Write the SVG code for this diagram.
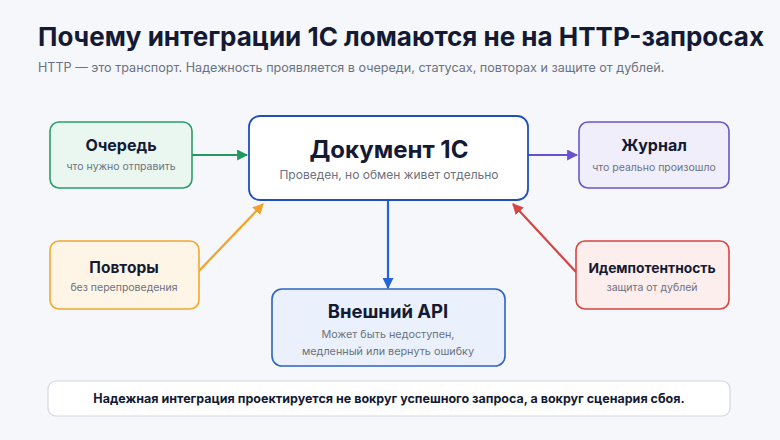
<svg xmlns="http://www.w3.org/2000/svg" width="780" height="440" viewBox="0 0 780 440">
<defs>
<style>
.t{font-family:Inter,"Noto Sans","Liberation Sans",sans-serif}
.h{font-weight:700;fill:#141a33;text-anchor:middle}
.s{fill:#6b7280;text-anchor:middle}
.c{fill:none;stroke-width:2.2}
</style>
<marker id="mg" viewBox="0 0 10 10" refX="9" refY="5" markerWidth="5" markerHeight="5" orient="auto" markerUnits="strokeWidth"><path d="M0,0L10,5L0,10z" fill="#22995e"/></marker>
<marker id="mp" viewBox="0 0 10 10" refX="9" refY="5" markerWidth="5" markerHeight="5" orient="auto" markerUnits="strokeWidth"><path d="M0,0L10,5L0,10z" fill="#6a4fd0"/></marker>
<marker id="mo" viewBox="0 0 10 10" refX="9" refY="5" markerWidth="5" markerHeight="5" orient="auto" markerUnits="strokeWidth"><path d="M0,0L10,5L0,10z" fill="#f0a32a"/></marker>
<marker id="mr" viewBox="0 0 10 10" refX="9" refY="5" markerWidth="5" markerHeight="5" orient="auto" markerUnits="strokeWidth"><path d="M0,0L10,5L0,10z" fill="#d64541"/></marker>
<marker id="mb" viewBox="0 0 10 10" refX="9" refY="5" markerWidth="5" markerHeight="5" orient="auto" markerUnits="strokeWidth"><path d="M0,0L10,5L0,10z" fill="#2563d6"/></marker>
</defs>
<rect width="780" height="440" fill="#f5f7fb"/>
<text class="t" x="38" y="46" font-size="26" font-weight="700" fill="#141a33">Почему интеграции 1С ломаются не на HTTP-запросах</text>
<text class="t" x="38" y="72" font-size="12.6" fill="#6b7280">HTTP — это транспорт. Надежность проявляется в очереди, статусах, повторах и защите от дублей.</text>

<g id="connectors">
<line class="c" x1="192" y1="155" x2="247" y2="155" stroke="#22995e" marker-end="url(#mg)"/>
<line class="c" x1="528" y1="155" x2="577" y2="155" stroke="#6a4fd0" marker-end="url(#mp)"/>
<line class="c" x1="198" y1="272" x2="263" y2="204" stroke="#f0a32a" marker-end="url(#mo)"/>
<line class="c" x1="576" y1="272" x2="513" y2="204" stroke="#d64541" marker-end="url(#mr)"/>
<line class="c" x1="388" y1="200" x2="388" y2="288" stroke="#2563d6" marker-end="url(#mb)"/>
</g>

<g id="queue">
<rect x="50" y="122" width="142" height="66" rx="9" fill="#eaf7f0" stroke="#2a9d6a" stroke-width="1.6"/>
<text class="t h" x="121" y="151" font-size="16">Очередь</text>
<text class="t s" x="121" y="170" font-size="10.5">что нужно отправить</text>
</g>
<g id="doc">
<rect x="249" y="116" width="279" height="84" rx="11" fill="#ffffff" stroke="#1f4fbf" stroke-width="1.8"/>
<text class="t h" x="389" y="158" font-size="24">Документ 1С</text>
<text class="t s" x="389" y="179" font-size="12">Проведен, но обмен живет отдельно</text>
</g>
<g id="journal">
<rect x="579" y="122" width="150" height="66" rx="9" fill="#f1eefc" stroke="#6a55c8" stroke-width="1.6"/>
<text class="t h" x="654" y="151" font-size="16">Журнал</text>
<text class="t s" x="654" y="171" font-size="10.5">что реально произошло</text>
</g>
<g id="retries">
<rect x="50" y="241" width="149" height="68" rx="9" fill="#fff5e6" stroke="#f0a830" stroke-width="1.6"/>
<text class="t h" x="124" y="273" font-size="15.5">Повторы</text>
<text class="t s" x="124" y="291" font-size="10.5">без перепроведения</text>
</g>
<g id="idem">
<rect x="576" y="241" width="153" height="68" rx="9" fill="#fdeeee" stroke="#d64541" stroke-width="1.6"/>
<text class="t h" x="652" y="273" font-size="13.8">Идемпотентность</text>
<text class="t s" x="652" y="291" font-size="10.5">защита от дублей</text>
</g>
<g id="api">
<rect x="272" y="289" width="233" height="77" rx="10" fill="#eaf1fc" stroke="#2f63c4" stroke-width="1.6"/>
<text class="t h" x="388" y="318" font-size="18.5">Внешний API</text>
<text class="t s" x="388" y="338" font-size="10.8">Может быть недоступен,</text>
<text class="t s" x="388" y="355" font-size="10.8">медленный или вернуть ошибку</text>
</g>
<g id="banner">
<rect x="48" y="381" width="682" height="35" rx="8" fill="#ffffff" stroke="#d3d7df" stroke-width="1.2"/>
<text class="t h" x="389" y="403" font-size="12.5" font-weight="600">Надежная интеграция проектируется не вокруг успешного запроса, а вокруг сценария сбоя.</text>
</g>
</svg>
